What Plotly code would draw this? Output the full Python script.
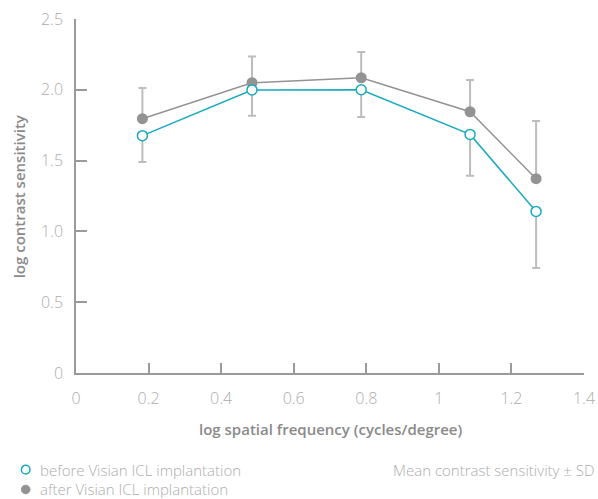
import plotly.graph_objects as go

freq = [0.183, 0.485, 0.786, 1.086, 1.268]
before = [1.676, 1.999, 2.000, 1.685, 1.141]
before_sd = [0.186, 0.182, 0.192, 0.292, 0.399]
after = [1.796, 2.050, 2.085, 1.845, 1.372]
after_sd = [0.217, 0.186, 0.182, 0.224, 0.408]

x_ticks = [0, 0.2, 0.4, 0.6, 0.8, 1.0, 1.2, 1.4]
x_tick_labels = ["0", "0.2", "0.4", "0.6", "0.8", "1", "1.2", "1.4"]
y_ticks = [0, 0.5, 1.0, 1.5, 2.0, 2.5]
y_tick_labels = ["0", "0.5", "1.0", "1.5", "2.0", "2.5"]

legend_labels = ["before Visian ICL implantation", "after Visian ICL implantation"]
x_title = "log spatial frequency (cycles/degree)"
y_title = "log contrast sensitivity"
note = "Mean contrast sensitivity ± SD"

TEAL = "#1aa9c1"
GRAY = "#939393"
ERR = "#bdbdbd"
AXIS = "#9a9a9a"
TXT = "#adadad"
TITLE = "#8a8a8a"
FONT = "Open Sans"

fig = go.Figure()

fig.add_trace(go.Scatter(
    x=freq, y=after, mode="lines+markers", showlegend=False,
    line=dict(color=GRAY, width=1.5),
    marker=dict(color=GRAY, size=11, symbol="circle"),
    error_y=dict(type="data", symmetric=False, array=after_sd,
                 arrayminus=[0] * len(after_sd), color=ERR, thickness=2, width=4),
))
fig.add_trace(go.Scatter(
    x=freq, y=before, mode="lines+markers", showlegend=False,
    line=dict(color=TEAL, width=1.5),
    marker=dict(color="white", size=10, symbol="circle",
                line=dict(color=TEAL, width=1.5)),
    error_y=dict(type="data", symmetric=False, array=[0] * len(before_sd),
                 arrayminus=before_sd, color=ERR, thickness=2, width=4),
))

# legend built from shapes + annotations (paper coordinates)
leg_y = [-0.273, -0.329]
leg_style = [dict(fillcolor="white", line=dict(color=TEAL, width=1.5)),
             dict(fillcolor=GRAY, line=dict(color=GRAY, width=1))]
for label, yy, st in zip(legend_labels, leg_y, leg_style):
    fig.add_shape(type="circle", xref="paper", yref="paper",
                  xsizemode="pixel", ysizemode="pixel",
                  xanchor=-0.099, yanchor=yy, x0=-4.3, x1=4.3, y0=-4.3, y1=4.3,
                  **st)
    fig.add_annotation(text=label, xref="paper", yref="paper",
                       x=-0.0745, y=yy, xanchor="left", yanchor="middle",
                       showarrow=False,
                       font=dict(family=FONT, size=15, color=TXT, weight=300))

fig.add_annotation(
    text=note, xref="paper", yref="paper",
    x=1.0, y=-0.273, xanchor="right", yanchor="middle", showarrow=False,
    xshift=13, font=dict(family=FONT, size=15, color=TXT, weight=300),
)
fig.add_annotation(
    text=x_title, xref="paper", yref="paper", x=0.5, y=-0.157,
    xanchor="center", yanchor="middle", showarrow=False,
    font=dict(family=FONT, size=15, color=TITLE, weight=600),
)
fig.add_annotation(
    text=y_title, xref="paper", yref="paper", x=-0.1116, y=0.5, textangle=-90,
    xanchor="center", yanchor="middle", showarrow=False,
    font=dict(family=FONT, size=15, color=TITLE, weight=600),
)

fig.update_layout(
    width=598, height=499,
    margin=dict(l=76, r=14, t=19, b=126),
    paper_bgcolor="white", plot_bgcolor="white",
    font=dict(family=FONT, color=TXT),
    showlegend=False,
    xaxis=dict(
        range=[0, 1.4], tickvals=x_ticks, ticktext=x_tick_labels, automargin=False,
        showgrid=False, zeroline=False, showline=True, linecolor=AXIS, linewidth=1.5,
        ticks="inside", ticklen=10, tickwidth=2, tickcolor=AXIS,
        tickfont=dict(family=FONT, size=16, color=TXT, weight=300),
        ticklabelstandoff=10,
    ),
    yaxis=dict(
        range=[0, 2.5], tickvals=y_ticks, ticktext=y_tick_labels, automargin=False,
        showgrid=False, zeroline=False, showline=True, linecolor=AXIS, linewidth=1.5,
        ticks="inside", ticklen=11, tickwidth=2, tickcolor=AXIS,
        tickfont=dict(family=FONT, size=16, color=TXT, weight=300),
        ticklabelstandoff=8,
    ),
)

fig.write_html("out.html", config={"displayModeBar": False},
               post_script="document.body.style.margin='0px';")
